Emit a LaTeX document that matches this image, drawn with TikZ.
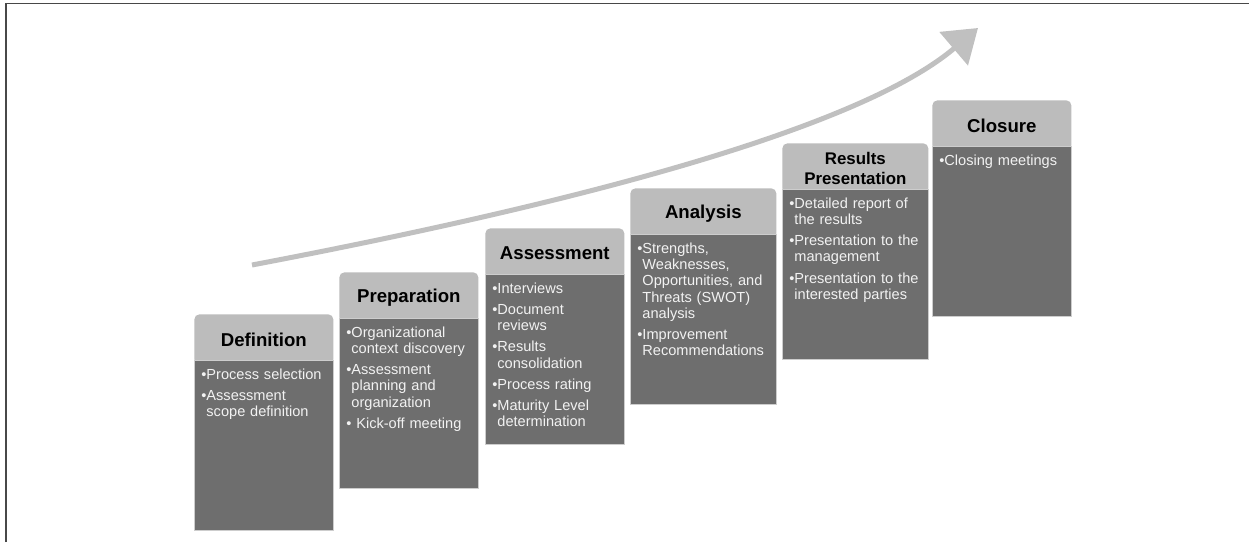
\documentclass[tikz,border=0pt]{standalone}
\usepackage{fontspec}
\setmainfont{Liberation Sans}
\usepackage{xcolor}
\usepackage{tikz}
\usetikzlibrary{arrows.meta, positioning}
\definecolor{headgray}{RGB}{188, 188, 188}
\definecolor{bodygray}{RGB}{110, 110, 110}
\definecolor{edgegray}{RGB}{205, 205, 205}
\definecolor{trendgray}{RGB}{192, 192, 192}
\definecolor{framegray}{RGB}{72, 72, 72}
\definecolor{bodytext}{RGB}{242, 242, 242}
% one bullet line, wrapped lines hang under the text
\newcommand{\bitem}[1]{\noindent\hangindent=0.35em\hangafter=1%
    \makebox[0.35em][l]{\textbullet}#1\par\vspace{2.8pt}}
\tikzset{
    stephead/.style={rectangle, rounded corners=0.1cm, fill=headgray,
                     minimum height=1cm, inner xsep=0.1cm, text width=2.58cm,
                     align=center, font=\fontsize{10.6}{11}\selectfont\bfseries},
    stepbody/.style={rectangle, fill=bodygray, draw=edgegray, line width=0.4pt,
                     inner xsep=0.14cm, inner ysep=0.26cm, text width=2.5cm,
                     text height=0.13cm, text depth=2.75cm, align=left,
                     text=bodytext,
                     font={\fontsize{8.3}{9.2}\selectfont\hyphenpenalty=10000}},
    trend/.style={line width=0.1cm, draw=trendgray,
                  -{Triangle[length=0.64cm, width=0.86cm]}},
    frameline/.style={line width=0.03cm, draw=framegray},
}

\begin{document}
\begin{tikzpicture}[x=0.02cm, y=-0.02cm]
    \useasboundingbox (0,0) rectangle (1249,542);
    \draw[frameline] (6,542) -- (6,3.5) -- (1249,3.5);

    % rising trend over the steps
    \coordinate (trendstart) at (252,265);
    \coordinate (trendend) at (978,28);
    \draw[trend] (trendstart) .. controls (502,217.5) and (847,139.5) .. (trendend);

    \node[stephead, anchor=north west] (defhead) at (194,314) {Definition};
    \node[stepbody, below=-0.1cm of defhead] (defbody)
        {\bitem{Process selection}\bitem{Assessment\newline scope definition}};

    \node[stephead, anchor=north west] (prephead) at (339,272) {Preparation};
    \node[stepbody, below=-0.1cm of prephead] (prepbody)
        {\bitem{Organizational\newline context discovery}%
         \bitem{Assessment\newline planning and\newline organization}%
         \bitem{\ Kick-off meeting}};

    \node[stephead, anchor=north west] (asshead) at (485,228) {Assessment};
    \node[stepbody, below=-0.1cm of asshead] (assbody)
        {\bitem{Interviews}\bitem{Document\newline reviews}%
         \bitem{Results\newline consolidation}\bitem{Process rating}%
         \bitem{Maturity Level\newline determination}};

    \node[stephead, text width=2.72cm, anchor=north west] (anahead) at (630,188) {Analysis};
    \node[stepbody, text width=2.64cm, below=-0.1cm of anahead] (anabody)
        {\bitem{Strengths,\newline Weaknesses,\newline Opportunities, and\newline
                Threats (SWOT)\newline analysis}%
         \bitem{Improvement\newline Recommendations}};

    \node[stephead, text width=2.72cm, anchor=north west,
          font=\fontsize{9.6}{11}\selectfont\bfseries] (reshead) at (782,143)
        {Results\\Presentation};
    \node[stepbody, text width=2.64cm, below=-0.1cm of reshead] (resbody)
        {\bitem{Detailed report of\newline the results}%
         \bitem{Presentation to the\newline management}%
         \bitem{Presentation to the\newline interested parties}};

    \node[stephead, anchor=north west] (closhead) at (932,100) {Closure};
    \node[stepbody, below=-0.1cm of closhead] (closbody)
        {\bitem{Closing meetings}};
\end{tikzpicture}
\end{document}
